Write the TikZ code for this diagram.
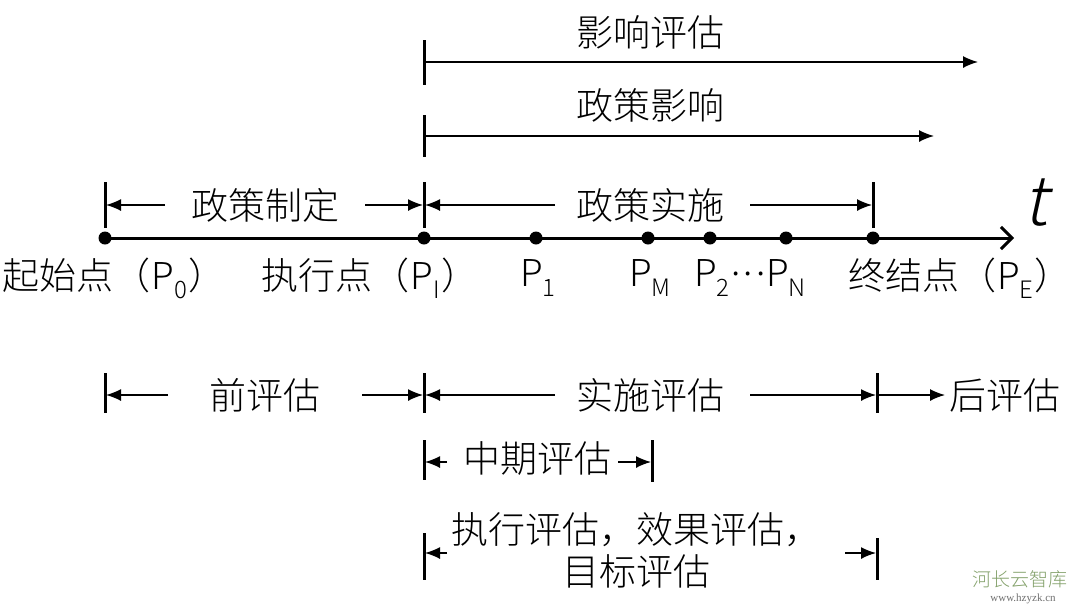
\documentclass[tikz,border=0pt]{standalone}
\usepackage{fontspec}
\setmainfont{Noto Sans CJK SC Light}
\newfontfamily\tfont[FakeSlant=0.22]{Noto Sans CJK SC Light}
\newfontfamily\wmserif{Liberation Serif}
\usetikzlibrary{arrows.meta}
\newcommand\sbs[1]{\raisebox{-0.45ex}{\fontsize{24}{24}\selectfont #1}}
\definecolor{wmgreen}{RGB}{130,160,105}
\definecolor{wmgray}{RGB}{110,110,110}
\tikzset{
  lbl/.style={font=\fontsize{37}{46}\selectfont, inner sep=0pt, anchor=center},
  tickline/.style={line width=3pt},
  arr/.style={line width=1.4pt, -{Latex[length=15pt,width=12pt]}},
  dot/.style={circle, fill=black, inner sep=0pt, minimum size=13pt},
  axisline/.style={line width=3pt, -{Straight Barb[length=11pt,width=22pt,line width=3pt]}},
}
\begin{document}
\begin{tikzpicture}[x=1pt,y=-1pt]
\useasboundingbox (0,0) rectangle (1080,611);

% axis points
\node[dot] (p0) at (105,238) {};
\node[dot] (pi) at (424,238) {};
\node[dot] (p1) at (536,238) {};
\node[dot] (pm) at (648,238) {};
\node[dot] (p2) at (710,238) {};
\node[dot] (pn) at (786,238) {};
\node[dot] (pe) at (873,238) {};
\coordinate (axend) at (1014,238);
\draw[axisline] (p0.center) -- (axend);
\node[font=\tfont\fontsize{68}{68}\selectfont, inner sep=0pt] (t) at (1035,203) {t};

% labels under axis
\node[lbl] (l0) at (114,278) {起始点（\kern1pt P\sbs{0}\kern1pt）};
\node[lbl] (li) at (370,278) {执行点（\kern1pt P\sbs{I}\kern1pt）};
\node[lbl] (l1) at (538,278) {P\sbs{1}};
\node[lbl] (lm) at (650,278) {P\sbs{M}};
\node[lbl] (l2n) at (750,278) {P\sbs{2}\kern2pt\raisebox{11pt}{.\kern3pt.\kern3pt.}\kern1pt P\sbs{N}};
\node[lbl] (le) at (960,278) {终结点（\kern1pt P\sbs{E}\kern1pt）};

% top: 影响评估
\coordinate (ta1) at (424,40); \coordinate (tb1) at (424,85);
\draw[tickline] (ta1) -- (tb1);
\coordinate (s1) at (424,62); \coordinate (e1) at (978,62);
\draw[arr] (s1) -- (e1);
\node[lbl] (yxpg) at (650,32) {影响评估};

% 政策影响
\coordinate (ta2) at (424,115); \coordinate (tb2) at (424,157);
\draw[tickline] (ta2) -- (tb2);
\coordinate (s2) at (424,136); \coordinate (e2) at (934,136);
\draw[arr] (s2) -- (e2);
\node[lbl] (zcyx) at (650,105) {政策影响};

% row 政策制定 / 政策实施
\coordinate (k0a) at (105,182); \coordinate (k0b) at (105,228);
\coordinate (kia) at (424,182); \coordinate (kib) at (424,228);
\coordinate (kea) at (873,182); \coordinate (keb) at (873,228);
\draw[tickline] (k0a) -- (k0b);
\draw[tickline] (kia) -- (kib);
\draw[tickline] (kea) -- (keb);
\node[lbl] (zczd) at (265,205) {政策制定};
\node[lbl] (zcss) at (650,205) {政策实施};
\coordinate (a1s) at (165,205); \coordinate (a1e) at (106,205);
\coordinate (a2s) at (365,205); \coordinate (a2e) at (423,205);
\coordinate (a3s) at (555,205); \coordinate (a3e) at (425,205);
\coordinate (a4s) at (750,205); \coordinate (a4e) at (872,205);
\draw[arr] (a1s) -- (a1e);
\draw[arr] (a2s) -- (a2e);
\draw[arr] (a3s) -- (a3e);
\draw[arr] (a4s) -- (a4e);

% row 前评估 / 实施评估 / 后评估
\coordinate (m0a) at (105,373); \coordinate (m0b) at (105,413);
\coordinate (mia) at (424,373); \coordinate (mib) at (424,413);
\coordinate (mea) at (877,373); \coordinate (meb) at (877,413);
\draw[tickline] (m0a) -- (m0b);
\draw[tickline] (mia) -- (mib);
\draw[tickline] (mea) -- (meb);
\node[lbl] (qpg) at (265,395) {前评估};
\node[lbl] (sspg) at (650,395) {实施评估};
\node[lbl] (hpg) at (1005,395) {后评估};
\coordinate (b1s) at (168,395); \coordinate (b1e) at (106,395);
\coordinate (b2s) at (362,395); \coordinate (b2e) at (423,395);
\coordinate (b3s) at (555,395); \coordinate (b3e) at (425,395);
\coordinate (b4s) at (750,395); \coordinate (b4e) at (876,395);
\coordinate (b5s) at (879,395); \coordinate (b5e) at (945,395);
\draw[arr] (b1s) -- (b1e);
\draw[arr] (b2s) -- (b2e);
\draw[arr] (b3s) -- (b3e);
\draw[arr] (b4s) -- (b4e);
\draw[arr] (b5s) -- (b5e);

% row 中期评估
\coordinate (c1a) at (424,440); \coordinate (c1b) at (424,480);
\coordinate (c2a) at (652,440); \coordinate (c2b) at (652,482);
\draw[tickline] (c1a) -- (c1b);
\draw[tickline] (c2a) -- (c2b);
\node[lbl] (zqpg) at (537,459) {中期评估};
\coordinate (d1s) at (447,462); \coordinate (d1e) at (425,462);
\coordinate (d2s) at (618,462); \coordinate (d2e) at (651,462);
\draw[arr] (d1s) -- (d1e);
\draw[arr] (d2s) -- (d2e);

% bottom row
\coordinate (f1a) at (424,533); \coordinate (f1b) at (424,580);
\coordinate (f2a) at (877,538); \coordinate (f2b) at (877,580);
\draw[tickline] (f1a) -- (f1b);
\draw[tickline] (f2a) -- (f2b);
\node[lbl, align=center, font=\fontsize{37}{42}\selectfont] (zxpg) at (636,550) {执行评估，效果评估，\\目标评估};
\coordinate (g1s) at (447,553); \coordinate (g1e) at (425,553);
\coordinate (g2s) at (845,553); \coordinate (g2e) at (876,553);
\draw[arr] (g1s) -- (g1e);
\draw[arr] (g2s) -- (g2e);

% watermark
\node[inner sep=0pt, text=wmgreen, font=\fontsize{19}{19}\selectfont] (wm1) at (1020,579) {河长云智库};
\node[inner sep=0pt, text=wmgray, font=\wmserif\fontsize{11}{11}\selectfont] (wm2) at (1023,599) {www.hzyzk.cn};
\end{tikzpicture}
\end{document}
